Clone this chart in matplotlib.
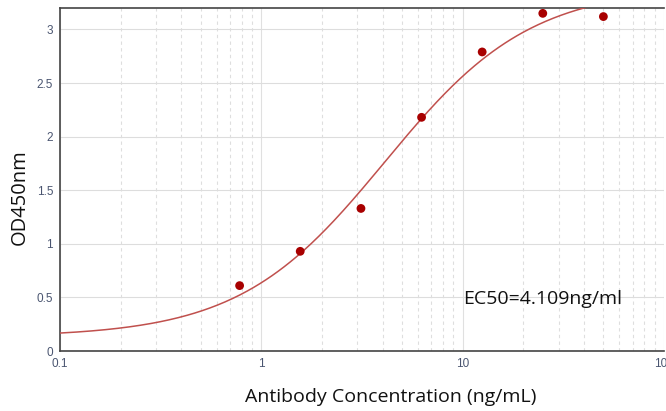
import numpy as np
import matplotlib
matplotlib.use('Agg')
import matplotlib.pyplot as plt
from matplotlib.ticker import LogLocator, FixedLocator, NullFormatter

# measured points
conc = [0.78, 1.56, 3.125, 6.25, 12.5, 25, 50]
od450 = [0.61, 0.93, 1.33, 2.18, 2.79, 3.15, 3.12]

# 4PL fit parameters (bottom, top, hill slope, EC50)
fit_bottom = 0.13
fit_top = 3.4
fit_hill = 1.2
fit_ec50 = 4.109

x_ticks = [0.1, 1, 10, 100]
x_labels = ['0.1', '1', '10', '100']
y_ticks = [0, 0.5, 1, 1.5, 2, 2.5, 3]
y_labels = ['0', '0.5', '1', '1.5', '2', '2.5', '3']

fig = plt.figure(figsize=(6.66, 4.11), dpi=100)
ax = fig.add_axes([60/666, 1 - 351/411, 604/666, 343/411])

xs = np.logspace(-1, 2, 400)
ys = fit_top + (fit_bottom - fit_top) / (1 + (xs / fit_ec50) ** fit_hill)
ax.plot(xs, ys, color='#c0504d', lw=1.1, zorder=3)
ax.scatter(conc, od450, s=40, color='#a80000', zorder=4, edgecolors='none')

ax.set_xscale('log')
ax.set_xlim(0.1, 100)
ax.set_ylim(0, 3.2)

ax.xaxis.set_major_locator(FixedLocator(x_ticks))
ax.set_xticklabels(x_labels)
ax.xaxis.set_minor_locator(LogLocator(base=10, subs=np.arange(2, 10)))
ax.xaxis.set_minor_formatter(NullFormatter())
ax.set_yticks(y_ticks)
ax.set_yticklabels(y_labels)

ax.grid(which='major', axis='x', color='#e0e0e0', lw=0.8)
ax.grid(which='minor', axis='x', color='#dedede', lw=0.8, ls=(0, (3, 3)))
ax.grid(which='major', axis='y', color='#dddddd', lw=0.8)
ax.set_axisbelow(True)

ax.tick_params(which='both', length=0, pad=5, labelsize=8.5, labelcolor='#4a5570')
for lbl in ax.get_xticklabels() + ax.get_yticklabels():
    lbl.set_family('Liberation Sans')

for s in ['left', 'bottom', 'top']:
    ax.spines[s].set_color('#444444')
    ax.spines[s].set_linewidth(1.2)
ax.spines['right'].set_visible(False)

fig.text(20/666, 1 - 197/411, 'OD450nm', rotation=90, ha='center', va='center',
         fontsize=14.5, family='Open Sans', color='#111111')
fig.text(391/666, 1 - 397/411, 'Antibody Concentration (ng/mL)', ha='center', va='center',
         fontsize=14, family='Open Sans', color='#111111')
ax.text(463/666, 1 - 299/411, 'EC50=4.109ng/ml', transform=fig.transFigure,
        ha='left', va='center', fontsize=14, family='Open Sans', color='#111111')

fig.savefig('out.png', dpi=100)
